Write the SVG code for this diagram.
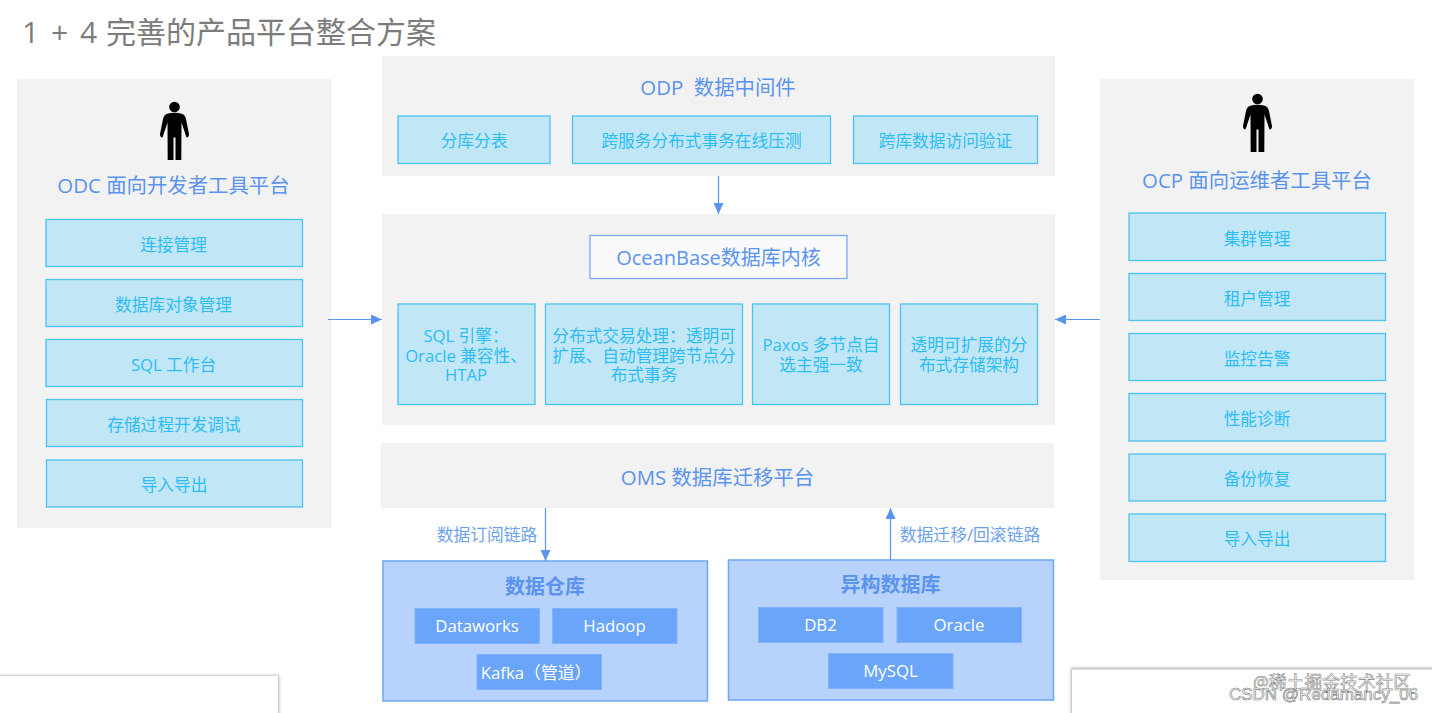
<svg xmlns="http://www.w3.org/2000/svg" width="1432" height="713" viewBox="0 0 1432 713">
<defs>
<marker id="arr" markerUnits="userSpaceOnUse" markerWidth="12" markerHeight="10" refX="11" refY="5" orient="auto"><path d="M0 0L11 5L0 10Z" fill="#5b94ee"/></marker>
<g id="person"><circle cx="0" cy="6" r="5.300"/><path d="M-8 13Q0 10.500 8 13Q10.500 14 11.500 18L14.500 33Q14.500 36.500 12 36.500L7 21.500L6.800 59H1V36.500H-1V59H-6.800L-7 21.500L-12 36.500Q-14.500 36.500 -14.500 33L-11.500 18Q-10.500 14 -8 13Z"/></g>
<filter id="sh" x="-5%" y="-20%" width="110%" height="140%"><feGaussianBlur stdDeviation="1.500"/></filter>
</defs>
<style>
text{font-family:"Open Sans","Noto Sans CJK SC","Noto Sans",sans-serif;text-anchor:middle}
.panel{fill:#f2f2f2}
.item{fill:#c1e7f7;stroke:#4cc3f1;stroke-width:1.300}
.itxt{fill:#2ebcf5;font-size:16.700px;transform:translateY(.7px)}
.head{fill:#5b94ee;font-size:20.400px;white-space:pre;transform:translateY(.7px)}
.lbl{fill:#6d9fef;font-size:16.800px}
.group{fill:#b8d3fb;stroke:#6ea5f5;stroke-width:1.500}
.gt{fill:#5b94ee;font-size:20px;font-weight:700}
.chip{fill:#6aa5fa;stroke:#7fb2fa;stroke-width:1}
.ct{fill:#fff;font-size:16.800px}
.conn{fill:none;stroke:#5b94ee;stroke-width:1.200;marker-end:url(#arr)}
</style>
<rect width="1432" height="713" fill="#fff"/>
<text y="43" style="font-size:30px;fill:#7c7c7c;text-anchor:start;word-spacing:4px"><tspan x="22">1 + 4</tspan><tspan x="106">完善的产品平台整合方案</tspan></text>

<g id="odc">
<rect class="panel" x="17" y="79" width="314" height="449"/>
<use href="#person" x="174.500" y="101"/>
<text class="head" x="173.500" y="192">ODC 面向开发者工具平台</text>
<rect class="item" x="46" y="219.500" width="256.500" height="47"/><text class="itxt" x="173.500" y="250">连接管理</text>
<rect class="item" x="46" y="279.500" width="256.500" height="47"/><text class="itxt" x="173.500" y="310">数据库对象管理</text>
<rect class="item" x="46" y="339.500" width="256.500" height="47"/><text class="itxt" x="173.500" y="370">SQL 工作台</text>
<rect class="item" x="46.500" y="399.500" width="256" height="47"/><text class="itxt" x="174" y="430">存储过程开发调试</text>
<rect class="item" x="46.500" y="460" width="256" height="47"/><text class="itxt" x="174" y="490">导入导出</text>
</g>

<g id="odp">
<rect class="panel" x="382" y="56" width="673" height="120"/>
<text class="head" x="718" y="94">ODP  数据中间件</text>
<rect class="item" x="398" y="116" width="152" height="47.500"/><text class="itxt" x="474" y="146">分库分表</text>
<rect class="item" x="572.500" y="116" width="258" height="47.500"/><text class="itxt" x="701.500" y="146">跨服务分布式事务在线压测</text>
<rect class="item" x="853.500" y="116" width="184" height="47.500"/><text class="itxt" x="945.500" y="146">跨库数据访问验证</text>
</g>

<g id="kernel">
<rect class="panel" x="382" y="214" width="673" height="211"/>
<rect x="590" y="235.500" width="257" height="43" fill="#fafafd" stroke="#7ba9f2" stroke-width="1.300"/>
<text x="718.500" y="265" style="font-size:20px;fill:#5b94ee">OceanBase数据库内核</text>
<rect class="item" x="398" y="304" width="137" height="100.500"/>
<text class="itxt"><tspan x="466" y="341">SQL 引擎：</tspan><tspan x="466" y="361">Oracle 兼容性、</tspan><tspan x="466" y="380">HTAP</tspan></text>
<rect class="item" x="545.500" y="304" width="197" height="100.500"/>
<text class="itxt"><tspan x="644" y="341">分布式交易处理：透明可</tspan><tspan x="644" y="361">扩展、自动管理跨节点分</tspan><tspan x="644" y="380">布式事务</tspan></text>
<rect class="item" x="752.500" y="304" width="137" height="100.500"/>
<text class="itxt"><tspan x="821" y="350">Paxos 多节点自</tspan><tspan x="821" y="370">选主强一致</tspan></text>
<rect class="item" x="900.500" y="304" width="137" height="100.500"/>
<text class="itxt"><tspan x="969" y="350">透明可扩展的分</tspan><tspan x="969" y="370">布式存储架构</tspan></text>
</g>

<g id="oms">
<rect class="panel" x="381" y="443" width="673" height="65"/>
<text class="head" x="717.500" y="484">OMS 数据库迁移平台</text>
</g>

<g id="ocp">
<rect class="panel" x="1100" y="79" width="314" height="501"/>
<use href="#person" x="1257.500" y="93"/>
<text class="head" x="1257" y="187">OCP 面向运维者工具平台</text>
<rect class="item" x="1129" y="213" width="256.500" height="47.500"/><text class="itxt" x="1257" y="244">集群管理</text>
<rect class="item" x="1129" y="273.500" width="256.500" height="47"/><text class="itxt" x="1257" y="304">租户管理</text>
<rect class="item" x="1129" y="333.500" width="256.500" height="47"/><text class="itxt" x="1257" y="364">监控告警</text>
<rect class="item" x="1129" y="393.500" width="256.500" height="47.500"/><text class="itxt" x="1257" y="424">性能诊断</text>
<rect class="item" x="1129" y="454" width="256.500" height="47"/><text class="itxt" x="1257" y="484">备份恢复</text>
<rect class="item" x="1129" y="514" width="256.500" height="47.500"/><text class="itxt" x="1257" y="544">导入导出</text>
</g>

<g id="warehouse">
<rect class="group" x="383" y="561" width="324.500" height="140"/>
<text class="gt" x="545" y="594">数据仓库</text>
<rect class="chip" x="415" y="608.500" width="124.500" height="35"/><text class="ct" x="477" y="632">Dataworks</text>
<rect class="chip" x="552.500" y="608.500" width="124.500" height="35"/><text class="ct" x="614.500" y="632">Hadoop</text>
<rect class="chip" x="477" y="654.500" width="124.500" height="35"/><text class="ct" x="536" y="679">Kafka（管道）</text>
</g>

<g id="hetero">
<rect class="group" x="728.500" y="560" width="325" height="140"/>
<text class="gt" x="890.500" y="592">异构数据库</text>
<rect class="chip" x="758.500" y="607.500" width="124.500" height="35"/><text class="ct" x="820.500" y="631">DB2</text>
<rect class="chip" x="897" y="607.500" width="124.500" height="35"/><text class="ct" x="959" y="631">Oracle</text>
<rect class="chip" x="828.500" y="653.500" width="124.500" height="35"/><text class="ct" x="890.500" y="677">MySQL</text>
</g>

<g id="connectors">
<path class="conn" d="M718.500 176V214"/>
<path class="conn" d="M328 319.500H382"/>
<path class="conn" d="M1100 319.500H1055"/>
<path class="conn" d="M545.500 508V561"/>
<path class="conn" d="M890.500 560V508"/>
</g>
<text class="lbl" x="487" y="541">数据订阅链路</text>
<text class="lbl" x="970" y="541">数据迁移/回滚链路</text>

<g id="cards">
<rect x="-10" y="675.500" width="289" height="50" fill="#b0b0b0" filter="url(#sh)"/>
<rect x="-10" y="676" width="288" height="50" fill="#fff"/>
<rect x="1071" y="668" width="380" height="60" fill="#b0b0b0" filter="url(#sh)"/>
<rect x="1072" y="669.500" width="380" height="60" fill="#fff"/>
</g>
<text x="1332" y="689" style="font-size:17.800px;fill:#fff;stroke:#888;stroke-width:.6">@稀土掘金技术社区</text>
<text x="1323.500" y="700" style="font-family:'Liberation Sans',sans-serif;font-size:17px;fill:#fff;stroke:#777;stroke-width:.6">CSDN @Redamancy_06</text>
</svg>
